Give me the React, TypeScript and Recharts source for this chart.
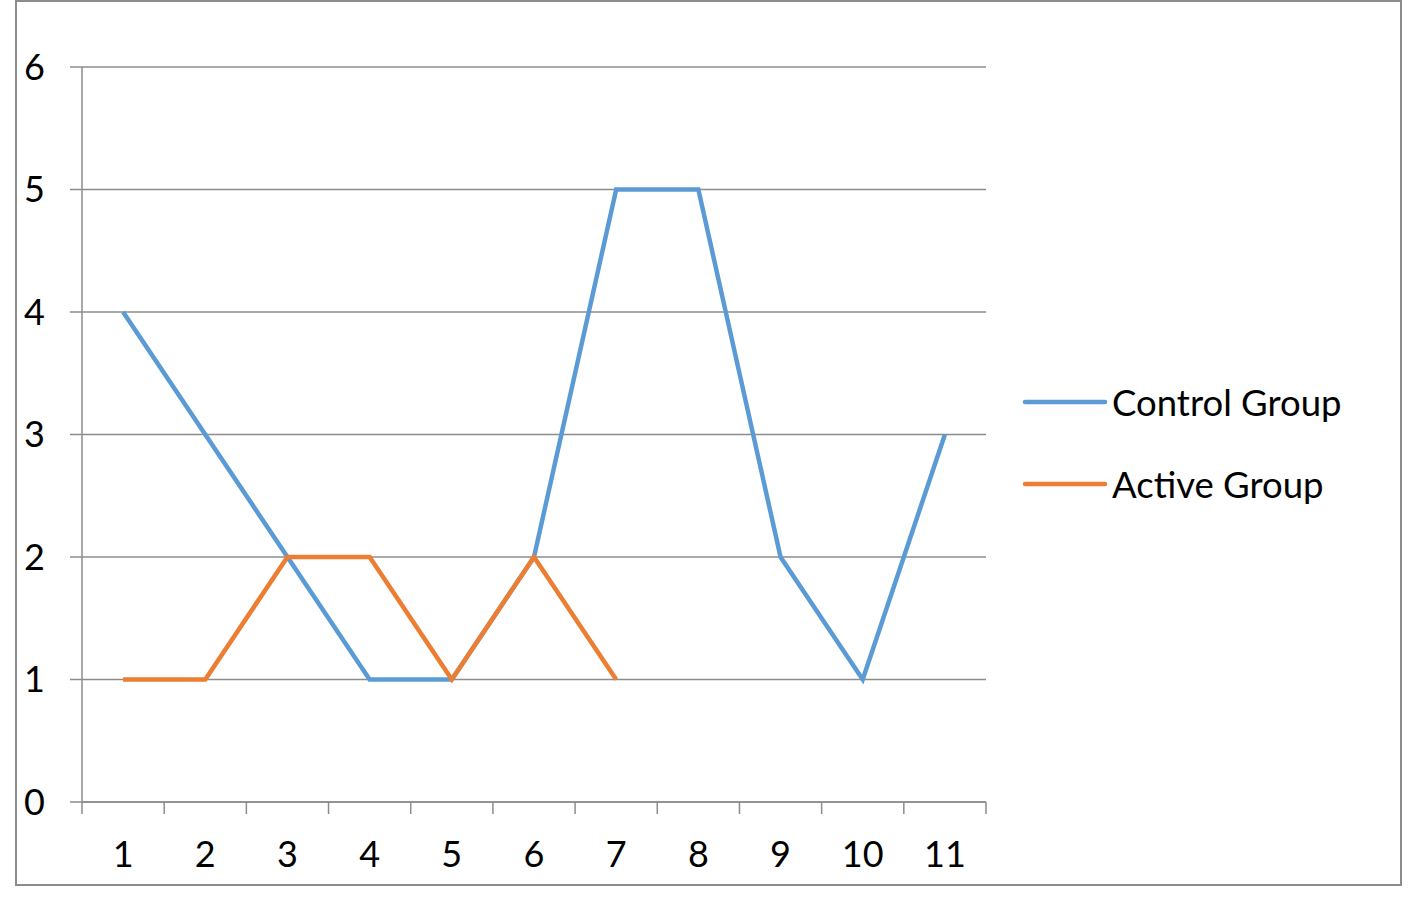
import React from 'react';
import { CartesianGrid, Legend, Line, LineChart, XAxis, YAxis } from 'recharts';

const categories = ['1', '2', '3', '4', '5', '6', '7', '8', '9', '10', '11'];
const controlGroup = [4, 3, 2, 1, 1, 2, 5, 5, 2, 1, 3];
const activeGroup: Array<number | null> = [1, 1, 2, 2, 1, 2, 1, null, null, null, null];
const yTicks = [0, 1, 2, 3, 4, 5, 6];

const data = categories.map((c, i) => ({
  name: c,
  control: controlGroup[i],
  active: activeGroup[i],
}));

const FONT = 'Lato, "Open Sans", sans-serif';
const GRAY = '#8c8c8c';
const BLUE = '#5b9bd5';
const ORANGE = '#ed7d31';

const XTick = (props: any) => {
  const { x, y, payload, index } = props;
  const half = payload && payload.offset ? payload.offset : 41;
  return (
    <g>
      <line x1={x - half} y1={y} x2={x - half} y2={y + 12} stroke={GRAY} strokeWidth={1.5} />
      {index === categories.length - 1 && (
        <line x1={x + half} y1={y} x2={x + half} y2={y + 12} stroke={GRAY} strokeWidth={1.5} />
      )}
      <text x={x} y={y + 65} textAnchor="middle" fill="#000" fontSize={36} fontFamily={FONT}>
        {payload.value}
      </text>
    </g>
  );
};

const LegendContent = () => {
  const items = [
    { name: 'Control Group', color: BLUE },
    { name: 'Active Group', color: ORANGE },
  ];
  return (
    <div style={{ fontFamily: FONT, fontSize: 36.5, color: '#000' }}>
      {items.map((it) => (
        <div key={it.name} style={{ display: 'flex', alignItems: 'center', height: 82 }}>
          <svg width={86} height={10} style={{ marginRight: 4 }}>
            <line x1={3} y1={5} x2={83} y2={5} stroke={it.color} strokeWidth={4.5} strokeLinecap="round" />
          </svg>
          <span>{it.name}</span>
        </div>
      ))}
    </div>
  );
};

export default function App() {
  return (
    <div style={{ position: 'absolute', left: 0, top: 0, width: 1417, height: 902, background: '#fff' }}>
      <div
        style={{
          position: 'absolute',
          left: 15,
          top: 0,
          width: 1387,
          height: 886,
          border: `2px solid ${GRAY}`,
          boxSizing: 'border-box',
        }}
      />
      <LineChart
        width={1417}
        height={902}
        data={data}
        margin={{ top: 67, right: 431, bottom: 40, left: 0 }}
        style={{ position: 'absolute', left: 0, top: 0 }}
      >
        <CartesianGrid vertical={false} stroke={GRAY} strokeWidth={1.5} />
        <XAxis
          dataKey="name"
          type="category"
          scale="band"
          height={60}
          axisLine={{ stroke: GRAY, strokeWidth: 1.5 }}
          tickLine={false}
          tickSize={0}
          tickMargin={0}
          interval={0}
          tick={<XTick />}
        />
        <YAxis
          domain={[0, 6]}
          ticks={yTicks}
          width={82}
          interval={0}
          axisLine={{ stroke: GRAY, strokeWidth: 1.5 }}
          tickLine={{ stroke: GRAY, strokeWidth: 1.5 }}
          tickSize={12}
          tickMargin={25}
          tick={{ fill: '#000', fontSize: 36, fontFamily: FONT }}
        />
        <Legend
          layout="horizontal"
          align="center"
          verticalAlign="middle"
          content={<LegendContent />}
          wrapperStyle={{ left: 1022, top: 361, width: 392 }}
        />
        <Line
          type="linear"
          dataKey="control"
          name="Control Group"
          stroke={BLUE}
          strokeWidth={4.5}
          dot={false}
          activeDot={false}
          isAnimationActive={false}
        />
        <Line
          type="linear"
          dataKey="active"
          name="Active Group"
          stroke={ORANGE}
          strokeWidth={4.5}
          dot={false}
          activeDot={false}
          connectNulls={false}
          isAnimationActive={false}
        />
      </LineChart>
    </div>
  );
}
